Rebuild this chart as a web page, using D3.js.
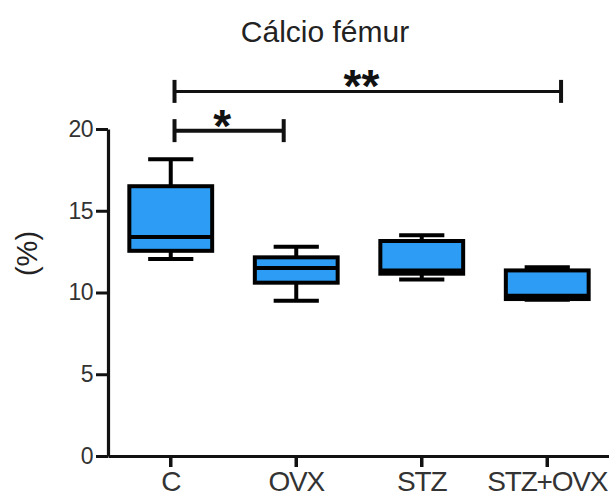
<!DOCTYPE html>
<html>
<head>
<meta charset="utf-8">
<script src="https://cdn.jsdelivr.net/npm/d3@7"></script>
<style>
  body { margin: 0; background: #fff; }
  svg { display: block; font-family: "Liberation Sans", Arial, sans-serif; }
</style>
</head>
<body>
<svg width="609" height="497"></svg>
<script>
const svg = d3.select("svg");

// DATA
const groups = ["C", "OVX", "STZ", "STZ+OVX"];
const whiskerMax = [18.15, 12.8, 13.5, 11.55];
const q3 = [16.5, 12.15, 13.15, 11.35];
const median = [13.4, 11.5, 11.35, 9.8];
const q1 = [12.55, 10.6, 11.15, 9.6];
const whiskerMin = [12.05, 9.5, 10.8, 9.55];
const yTicks = [0, 5, 10, 15, 20];

// significance brackets, ends given in group-index units
const brackets = [
  { from: 0.03, to: 3.11, mid: 1.52, label: "**", level: 22.3 },
  { from: 0.03, to: 0.9, mid: 0.41, label: "*", level: 19.9 }
];

const boxes = groups.map((g, i) => ({
  group: g, max: whiskerMax[i], q3: q3[i], med: median[i], q1: q1[i], min: whiskerMin[i]
}));

// CONSTANTS
const blue = "#2d9cf4";
const boxFrac = 0.66;
const capFrac = 0.36;

// SCALES
const x = d3.scaleBand().domain(groups).range([108, 610]).padding(0);
const y = d3.scaleLinear().domain([0, 20]).range([456, 129]);
const xIdx = d3.scaleLinear()
  .domain([0, 1])
  .range([x(groups[0]) + x.bandwidth() / 2, x(groups[1]) + x.bandwidth() / 2]);

// AXES
const yAxis = svg.append("g")
  .attr("transform", "translate(108,0)")
  .call(d3.axisLeft(y).tickValues(yTicks).tickSize(12).tickSizeOuter(0).tickPadding(3));
yAxis.select(".domain").attr("stroke", "#111").attr("stroke-width", 3.2);
yAxis.selectAll(".tick line").attr("stroke", "#111").attr("stroke-width", 3);
yAxis.selectAll(".tick text")
  .attr("font-size", 23).attr("letter-spacing", -0.5).attr("fill", "#333")
  .attr("font-family", "Liberation Sans, Arial, sans-serif");

const xAxis = svg.append("g")
  .attr("transform", "translate(0,456)")
  .call(d3.axisBottom(x).tickSize(11).tickSizeOuter(0));
xAxis.select(".domain").attr("stroke", "#111").attr("stroke-width", 3.2);
xAxis.selectAll(".tick line").attr("stroke", "#111").attr("stroke-width", 3.5);
xAxis.selectAll(".tick text")
  .attr("y", 35).attr("dy", 0)
  .attr("font-size", 28).attr("letter-spacing", -1.2).attr("fill", "#333")
  .attr("font-family", "Liberation Sans, Arial, sans-serif");

// BOXES
const bw = x.bandwidth() * boxFrac;
const cw = x.bandwidth() * capFrac;
const g = svg.append("g");
const box = g.selectAll("g.box").data(boxes).join("g")
  .attr("class", "box")
  .attr("transform", d => `translate(${x(d.group) + x.bandwidth() / 2},0)`);

box.append("line")
  .attr("y1", d => y(d.max)).attr("y2", d => y(d.q3))
  .attr("stroke", "#000").attr("stroke-width", 4);
box.append("line")
  .attr("y1", d => y(d.q1)).attr("y2", d => y(d.min))
  .attr("stroke", "#000").attr("stroke-width", 4);
box.append("line")
  .attr("x1", -cw / 2).attr("x2", cw / 2)
  .attr("y1", d => y(d.max)).attr("y2", d => y(d.max))
  .attr("stroke", "#000").attr("stroke-width", 4);
box.append("line")
  .attr("x1", -cw / 2).attr("x2", cw / 2)
  .attr("y1", d => y(d.min)).attr("y2", d => y(d.min))
  .attr("stroke", "#000").attr("stroke-width", 4);
box.append("rect")
  .attr("x", -bw / 2).attr("width", bw)
  .attr("y", d => y(d.q3)).attr("height", d => y(d.q1) - y(d.q3))
  .attr("fill", blue).attr("stroke", "#000").attr("stroke-width", 4);
box.append("line")
  .attr("x1", -bw / 2).attr("x2", bw / 2)
  .attr("y1", d => y(d.med)).attr("y2", d => y(d.med))
  .attr("stroke", "#000").attr("stroke-width", 4);

// BRACKETS
const br = svg.append("g").selectAll("g").data(brackets).join("g");
br.append("line")
  .attr("x1", d => xIdx(d.from)).attr("x2", d => xIdx(d.to))
  .attr("y1", d => y(d.level)).attr("y2", d => y(d.level))
  .attr("stroke", "#111").attr("stroke-width", d => d.label === "*" ? 4 : 3);
br.append("line")
  .attr("x1", d => xIdx(d.from)).attr("x2", d => xIdx(d.from))
  .attr("y1", d => y(d.level) - 11.5).attr("y2", d => y(d.level) + 11.5)
  .attr("stroke", "#111").attr("stroke-width", 4);
br.append("line")
  .attr("x1", d => xIdx(d.to)).attr("x2", d => xIdx(d.to))
  .attr("y1", d => y(d.level) - 11.5).attr("y2", d => y(d.level) + 11.5)
  .attr("stroke", "#111").attr("stroke-width", 4);
br.append("text")
  .attr("x", d => xIdx(d.mid))
  .attr("y", d => y(d.level) + 11)
  .attr("text-anchor", "middle")
  .attr("font-size", 46).attr("font-weight", "bold").attr("fill", "#111")
  .text(d => d.label);

// TITLES
svg.append("text")
  .attr("x", 325).attr("y", 42)
  .attr("text-anchor", "middle")
  .attr("font-size", 30).attr("fill", "#222")
  .text("Cálcio fémur");

svg.append("text")
  .attr("transform", "translate(37,253.5) rotate(-90)")
  .attr("text-anchor", "middle")
  .attr("font-size", 29).attr("fill", "#222")
  .text("(%)");
</script>
</body>
</html>
